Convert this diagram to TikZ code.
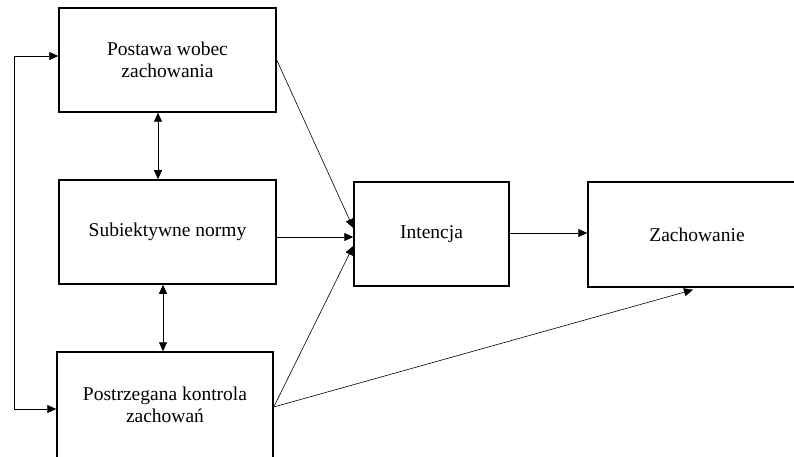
\documentclass[tikz,border=0pt]{standalone}
\usepackage{fontspec}
\setmainfont{Liberation Serif}
\usepackage{tikz}
\usetikzlibrary{arrows.meta}

\begin{document}
\begin{tikzpicture}[x=1pt,y=-1pt,
        box/.style={draw, line width=1.5pt, align=center, inner sep=0pt,
            font=\fontsize{19.5}{22}\selectfont},
        link/.style={line width=0.6pt, -{Triangle[length=9pt,width=8pt]}}]
    \useasboundingbox (0,0) rectangle (794,457);
    \node[box, minimum width=217pt, minimum height=104pt] (postawa) at (167.5,60) {Postawa wobec\\zachowania};
    \node[box, minimum width=217pt, minimum height=104pt] (normy) at (167.5,232) {Subiektywne normy};
    \node[box, minimum width=216pt, minimum height=106pt] (kontrola) at (165,405) {Postrzegana kontrola\\zachowań};
    \node[box, minimum width=155pt, minimum height=104pt] (intencja) at (431.5,234) {Intencja};
    \node[box, minimum width=218pt, minimum height=105pt] (zach) at (697,234.5) {Zachowanie};

    \draw[link, {Triangle[length=9pt,width=8pt]}-{Triangle[length=9pt,width=8pt]}]
        ([yshift=4pt]postawa.west) -- ++(-44,0) |- ([yshift=-4pt]kontrola.west);
    \draw[link, {Triangle[length=9pt,width=8pt]}-{Triangle[length=9pt,width=8pt]}]
        ([xshift=-9.5pt]postawa.south) -- ([xshift=-9.5pt]normy.north);
    \draw[link, {Triangle[length=9pt,width=8pt]}-{Triangle[length=9pt,width=8pt]}]
        ([xshift=-4.5pt]normy.south) -- ([xshift=-2pt]kontrola.north);
    \draw[link] (postawa.east) -- ([yshift=6pt]intencja.west);
    \draw[link] ([yshift=-5pt]normy.east) -- ([yshift=-3pt]intencja.west);
    \draw[link] ([yshift=-2pt]kontrola.east) -- ([yshift=-12pt]intencja.west);
    \draw[link] ([yshift=-2pt]kontrola.east) -- ([xshift=-4pt,yshift=-2pt]zach.south);
    \draw[link] ([yshift=1pt]intencja.east) -- ([yshift=1.5pt]zach.west);
\end{tikzpicture}
\end{document}
